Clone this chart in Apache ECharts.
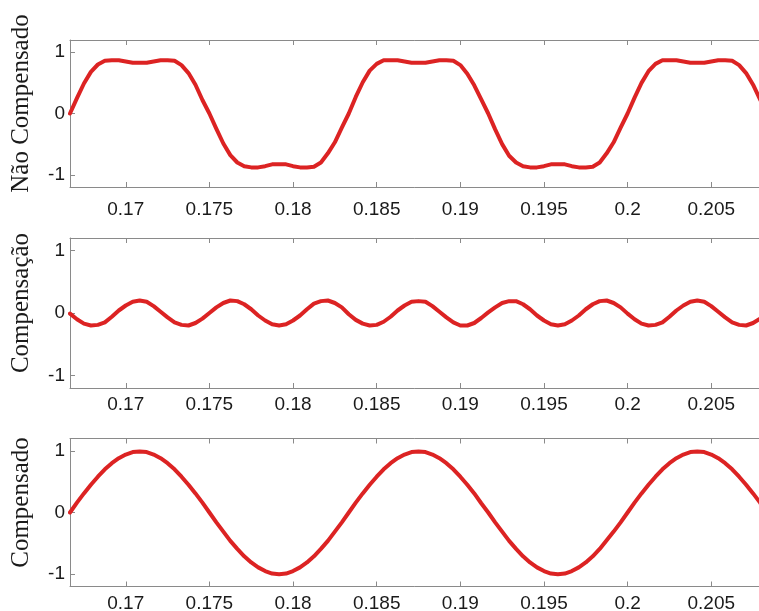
<!DOCTYPE html>
<html>
<head>
<meta charset="utf-8">
<title>Não Compensado / Compensação / Compensado</title>
<script src="https://cdn.jsdelivr.net/npm/echarts@6/dist/echarts.min.js"></script>
<style>
html, body { margin: 0; padding: 0; background: #fff; }
#chart { width: 759px; height: 611px; }
</style>
</head>
<body>
<div id="chart"></div>
<script>
// tempo em segundos (passo de 1/2400 s)
const tempo = [
  0.166667, 0.167083, 0.167500, 0.167917, 0.168333, 0.168750, 0.169167, 0.169583, 0.170000, 0.170417,
  0.170833, 0.171250, 0.171667, 0.172083, 0.172500, 0.172917, 0.173333, 0.173750, 0.174167, 0.174583,
  0.175000, 0.175417, 0.175833, 0.176250, 0.176667, 0.177083, 0.177500, 0.177917, 0.178333, 0.178750,
  0.179167, 0.179583, 0.180000, 0.180417, 0.180833, 0.181250, 0.181667, 0.182083, 0.182500, 0.182917,
  0.183333, 0.183750, 0.184167, 0.184583, 0.185000, 0.185417, 0.185833, 0.186250, 0.186667, 0.187083,
  0.187500, 0.187917, 0.188333, 0.188750, 0.189167, 0.189583, 0.190000, 0.190417, 0.190833, 0.191250,
  0.191667, 0.192083, 0.192500, 0.192917, 0.193333, 0.193750, 0.194167, 0.194583, 0.195000, 0.195417,
  0.195833, 0.196250, 0.196667, 0.197083, 0.197500, 0.197917, 0.198333, 0.198750, 0.199167, 0.199583,
  0.200000, 0.200417, 0.200833, 0.201250, 0.201667, 0.202083, 0.202500, 0.202917, 0.203333, 0.203750,
  0.204167, 0.204583, 0.205000, 0.205417, 0.205833, 0.206250, 0.206667, 0.207083, 0.207500, 0.207917,
  0.208333
];

const naoCompensado = [
  0.00, 0.25, 0.49, 0.68, 0.80, 0.86, 0.87, 0.87, 0.85, 0.83, 0.83, 0.83, 0.85, 0.87, 0.87, 0.86, 0.79, 0.66, 0.47, 0.22,
  0.00, -0.25, -0.49, -0.68, -0.80, -0.86, -0.88, -0.88, -0.86, -0.83, -0.83, -0.83, -0.86, -0.88, -0.88, -0.87, -0.80, -0.65, -0.47, -0.23,
  0.00, 0.27, 0.51, 0.70, 0.81, 0.87, 0.87, 0.87, 0.85, 0.83, 0.83, 0.83, 0.85, 0.87, 0.87, 0.86, 0.79, 0.65, 0.46, 0.23,
  0.00, -0.26, -0.50, -0.69, -0.80, -0.86, -0.88, -0.88, -0.86, -0.83, -0.83, -0.83, -0.86, -0.88, -0.88, -0.87, -0.80, -0.65, -0.47, -0.23,
  0.00, 0.26, 0.50, 0.69, 0.81, 0.87, 0.87, 0.87, 0.85, 0.83, 0.83, 0.83, 0.85, 0.87, 0.87, 0.86, 0.79, 0.66, 0.47, 0.23,
  0.00
];

const compensacao = [
  -0.01, -0.10, -0.17, -0.20, -0.19, -0.15, -0.06, 0.04, 0.12, 0.18, 0.20, 0.18, 0.11, 0.02, -0.07, -0.15, -0.19, -0.20, -0.16, -0.09,
  0.00, 0.09, 0.16, 0.20, 0.19, 0.14, 0.06, -0.04, -0.12, -0.18, -0.20, -0.18, -0.12, -0.04, 0.06, 0.15, 0.19, 0.20, 0.16, 0.09,
  -0.02, -0.11, -0.17, -0.20, -0.19, -0.14, -0.06, 0.04, 0.12, 0.18, 0.19, 0.18, 0.11, 0.02, -0.07, -0.15, -0.20, -0.20, -0.16, -0.08,
  0.01, 0.09, 0.16, 0.19, 0.19, 0.14, 0.06, -0.04, -0.12, -0.18, -0.20, -0.18, -0.12, -0.04, 0.06, 0.14, 0.19, 0.20, 0.16, 0.09,
  -0.01, -0.10, -0.17, -0.20, -0.19, -0.15, -0.06, 0.04, 0.12, 0.18, 0.20, 0.18, 0.11, 0.02, -0.07, -0.15, -0.19, -0.20, -0.16, -0.09,
  0.00
];

const compensado = [
  0.00, 0.16, 0.31, 0.45, 0.58, 0.70, 0.80, 0.88, 0.94, 0.98, 0.99, 0.98, 0.94, 0.88, 0.80, 0.70, 0.58, 0.45, 0.31, 0.16,
  0.00, -0.16, -0.31, -0.46, -0.59, -0.71, -0.81, -0.89, -0.95, -0.99, -1.00, -0.99, -0.95, -0.89, -0.81, -0.71, -0.59, -0.46, -0.31, -0.16,
  0.00, 0.16, 0.31, 0.45, 0.58, 0.70, 0.80, 0.88, 0.94, 0.98, 0.99, 0.98, 0.94, 0.88, 0.80, 0.70, 0.58, 0.45, 0.31, 0.15,
  0.00, -0.16, -0.31, -0.46, -0.59, -0.71, -0.81, -0.89, -0.95, -0.99, -1.00, -0.99, -0.95, -0.89, -0.81, -0.71, -0.59, -0.45, -0.31, -0.16,
  0.00, 0.16, 0.31, 0.45, 0.58, 0.70, 0.80, 0.88, 0.94, 0.98, 0.99, 0.98, 0.94, 0.88, 0.80, 0.70, 0.58, 0.45, 0.31, 0.16,
  0.00
];

const xTicks = [0.17, 0.175, 0.18, 0.185, 0.19, 0.195, 0.2, 0.205];
const yTicks = [-1, 0, 1];
const nomes = ['Não Compensado', 'Compensação', 'Compensado'];
const sinais = [naoCompensado, compensacao, compensado];

const chart = echarts.init(document.getElementById('chart'));

const eixoCor = '#8a8a8a';
const textoCor = '#1a1a1a';

// a caixa passa um pouco da borda direita da imagem (corte do original)
const grids = [
  { left: 70, width: 697, top: 40, height: 147, outerBoundsMode: 'none' },
  { left: 70, width: 697, top: 238, height: 150, outerBoundsMode: 'none' },
  { left: 70, width: 697, top: 438.5, height: 148, outerBoundsMode: 'none' }
];
const xLabelMargin = [13.5, 7.5, 7.5];

const xAxis = [];
const yAxis = [];
const series = [];

for (let i = 0; i < 3; i++) {
  const base = {
    gridIndex: i,
    type: 'value',
    axisLine: { show: true, onZero: false, lineStyle: { color: eixoCor, width: 1 } },
    splitLine: { show: false }
  };
  // eixo x inferior (com rótulos) e superior (só marcas)
  xAxis.push(Object.assign({}, base, {
    min: tempo[0],
    max: tempo[tempo.length - 1],
    position: 'bottom',
    axisTick: { show: true, inside: true, length: 5, customValues: xTicks, lineStyle: { color: eixoCor } },
    axisLabel: {
      customValues: xTicks,
      margin: xLabelMargin[i],
      color: textoCor,
      fontSize: 19,
      fontFamily: 'Liberation Sans',
      formatter: v => String(+v.toFixed(3))
    }
  }));
  xAxis.push(Object.assign({}, base, {
    min: tempo[0],
    max: tempo[tempo.length - 1],
    position: 'top',
    axisTick: { show: true, inside: true, length: 5, customValues: xTicks, lineStyle: { color: eixoCor } },
    axisLabel: { show: false }
  }));
  // eixo y esquerdo (com rótulos e nome) e direito
  yAxis.push(Object.assign({}, base, {
    min: -1.2,
    max: 1.2,
    position: 'left',
    name: nomes[i],
    nameLocation: 'middle',
    nameGap: 36,
    nameTextStyle: {
      fontFamily: 'Liberation Serif',
      fontSize: 25,
      color: textoCor,
      padding: [0, 0, 0, 20]
    },
    axisTick: { show: true, inside: true, length: 5, customValues: yTicks, lineStyle: { color: eixoCor } },
    axisLabel: {
      customValues: yTicks,
      margin: 5,
      color: textoCor,
      fontSize: 19,
      fontFamily: 'Liberation Sans'
    }
  }));
  yAxis.push(Object.assign({}, base, {
    min: -1.2,
    max: 1.2,
    position: 'right',
    axisTick: { show: true, inside: true, length: 5, customValues: yTicks, lineStyle: { color: eixoCor } },
    axisLabel: { show: false }
  }));

  series.push({
    type: 'line',
    xAxisIndex: 2 * i,
    yAxisIndex: 2 * i,
    data: tempo.map((t, k) => [t, sinais[i][k]]),
    showSymbol: false,
    clip: true,
    lineStyle: { color: '#dc2323', width: 4, join: 'round', cap: 'round' },
    itemStyle: { color: '#dc2323' }
  });
}

chart.setOption({
  animation: false,
  backgroundColor: '#fff',
  grid: grids,
  xAxis: xAxis,
  yAxis: yAxis,
  series: series
});
</script>
</body>
</html>
